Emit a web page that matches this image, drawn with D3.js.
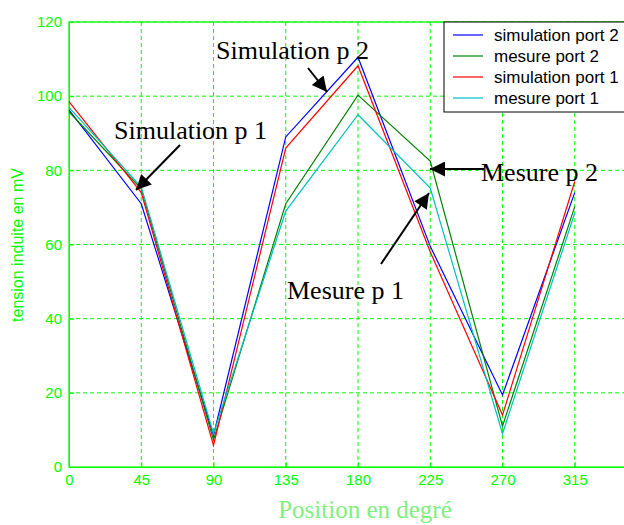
<!DOCTYPE html>
<html>
<head>
<meta charset="utf-8">
<script src="https://d3js.org/d3.v7.min.js"></script>
<style>
  body { margin: 0; background: #fff; }
  svg { display: block; }
</style>
</head>
<body>
<svg id="chart" width="624" height="525"></svg>
<script>
  // données
  const positions = [0, 45, 90, 135, 180, 225, 270, 315];
  const simPort2 = [96.3, 71, 8.5, 89, 110.5, 59.5, 19.4, 74];
  const mesPort2 = [95.8, 75, 7.3, 71, 100.3, 82.5, 11, 70.2];
  const simPort1 = [98.5, 74, 5.8, 86, 108.2, 58, 14, 77];
  const mesPort1 = [97, 75.5, 9, 69, 95, 75.2, 9, 68.5];
  const xTicks = [0, 45, 90, 135, 180, 225, 270, 315];
  const yTicks = [0, 20, 40, 60, 80, 100, 120];

  const series = [
    { name: "simulation port 2", values: simPort2, color: "#0000ff" },
    { name: "mesure port 2", values: mesPort2, color: "#008000" },
    { name: "simulation port 1", values: simPort1, color: "#ff0000" },
    { name: "mesure port 1", values: mesPort1, color: "#00bfbf" }
  ];

  const annotations = [
    { text: "Simulation p 2", x: 216, y: 59, from: [308, 68], to: [327, 92] },
    { text: "Simulation p 1", x: 114, y: 139, from: [180, 145], to: [136, 190] },
    { text: "Mesure p 2", x: 481, y: 181, from: [484, 169], to: [430, 169] },
    { text: "Mesure p 1", x: 287, y: 299, from: [381, 264], to: [429, 193] }
  ];

  const axisGreen = "#00ff00";
  const plotLeft = 69, plotTop = 22, plotBottom = 467, plotRight = 647;

  const svg = d3.select("#chart");

  const x = d3.scaleLinear().domain([0, 360]).range([plotLeft, plotRight]);
  const y = d3.scaleLinear().domain([0, 120]).range([plotBottom, plotTop]);

  // grille pointillée
  svg.append("g").selectAll("line")
    .data(xTicks.slice(1))
    .join("line")
    .attr("x1", d => x(d)).attr("x2", d => x(d))
    .attr("y1", plotTop).attr("y2", plotBottom)
    .attr("stroke", axisGreen).attr("stroke-dasharray", "4,3");
  svg.append("g").selectAll("line")
    .data(yTicks.slice(1))
    .join("line")
    .attr("x1", plotLeft).attr("x2", plotRight)
    .attr("y1", d => y(d)).attr("y2", d => y(d))
    .attr("stroke", axisGreen).attr("stroke-dasharray", "4,3");

  // cadre
  svg.append("rect")
    .attr("x", plotLeft).attr("y", plotTop)
    .attr("width", plotRight - plotLeft).attr("height", plotBottom - plotTop)
    .attr("fill", "none").attr("stroke", axisGreen).attr("stroke-width", 1.2);

  // axes
  const xAxis = d3.axisBottom(x).tickValues(xTicks).tickSize(-5).tickPadding(7);
  const yAxis = d3.axisLeft(y).tickValues(yTicks).tickSize(-5).tickPadding(7);

  const gx = svg.append("g").attr("transform", `translate(0,${plotBottom})`).call(xAxis);
  const gy = svg.append("g").attr("transform", `translate(${plotLeft},0)`).call(yAxis);
  [gx, gy].forEach(g => {
    g.select(".domain").attr("stroke", axisGreen);
    g.selectAll(".tick line").attr("stroke", axisGreen);
    g.selectAll(".tick text")
      .attr("fill", axisGreen)
      .attr("font-family", "Liberation Sans, Arial, sans-serif")
      .attr("font-size", 15);
  });

  // courbes
  const line = d3.line()
    .x((d, i) => x(positions[i]))
    .y(d => y(d));

  svg.append("g").selectAll("path")
    .data(series)
    .join("path")
    .attr("fill", "none")
    .attr("stroke", d => d.color)
    .attr("stroke-width", 1.2)
    .attr("d", d => line(d.values));

  // légende
  const lg = svg.append("g");
  lg.append("rect")
    .attr("x", 444).attr("y", 22)
    .attr("width", 200).attr("height", 90)
    .attr("fill", "#fff").attr("stroke", "#000").attr("stroke-width", 1);
  series.forEach((s, i) => {
    const ly = 35 + i * 21;
    lg.append("line")
      .attr("x1", 453).attr("x2", 483)
      .attr("y1", ly).attr("y2", ly)
      .attr("stroke", s.color).attr("stroke-width", 1.2);
    lg.append("text")
      .attr("x", 494).attr("y", ly + 6)
      .attr("font-family", "Liberation Sans, Arial, sans-serif")
      .attr("font-size", 17)
      .attr("fill", "#000")
      .text(s.name);
  });

  // annotations + flèches
  svg.append("defs").append("marker")
    .attr("id", "head")
    .attr("viewBox", "0 0 10 10")
    .attr("refX", 10).attr("refY", 5)
    .attr("markerWidth", 19).attr("markerHeight", 15)
    .attr("markerUnits", "userSpaceOnUse")
    .attr("orient", "auto")
    .append("path")
    .attr("d", "M0,0 L10,5 L0,10 Z")
    .attr("fill", "#000");

  annotations.forEach(a => {
    svg.append("line")
      .attr("x1", a.from[0]).attr("y1", a.from[1])
      .attr("x2", a.to[0]).attr("y2", a.to[1])
      .attr("stroke", "#000").attr("stroke-width", 2)
      .attr("marker-end", "url(#head)");
  });
  annotations.forEach(a => {
    svg.append("text")
      .attr("x", a.x).attr("y", a.y)
      .attr("font-family", "Liberation Serif, Times New Roman, serif")
      .attr("font-size", 26)
      .attr("fill", "#000")
      .text(a.text);
  });

  // titres des axes
  svg.append("text")
    .attr("transform", `translate(23,245) rotate(-90)`)
    .attr("text-anchor", "middle")
    .attr("font-family", "Liberation Sans, Arial, sans-serif")
    .attr("font-size", 16)
    .attr("fill", axisGreen)
    .text("tension induite en mV");

  svg.append("text")
    .attr("x", 365).attr("y", 518)
    .attr("text-anchor", "middle")
    .attr("font-family", "Liberation Serif, Times New Roman, serif")
    .attr("font-size", 25)
    .attr("fill", "#7fef7f")
    .text("Position en degré");
</script>
</body>
</html>
